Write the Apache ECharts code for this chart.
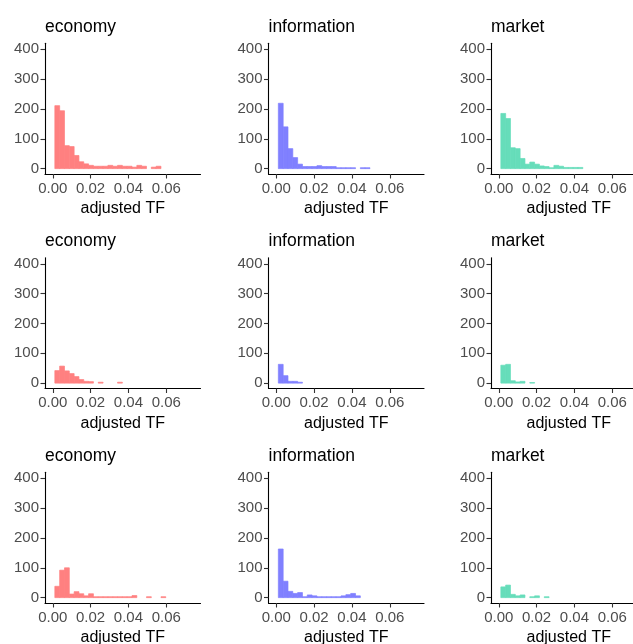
<!DOCTYPE html>
<html>
<head>
<meta charset="utf-8">
<script src="https://cdn.jsdelivr.net/npm/echarts@6/dist/echarts.min.js"></script>
<style>
html,body{margin:0;padding:0;background:#fff;}
#chart{width:633px;height:644px;}
</style>
</head>
<body>
<div id="chart"></div>
<script>
// Histogram bin edges (adjusted TF)
const binEdges = [0.0011, 0.00365, 0.0062, 0.00875, 0.0113, 0.01385, 0.0164, 0.01895,
  0.0215, 0.02405, 0.0266, 0.02915, 0.0317, 0.03425, 0.0368, 0.03935, 0.0419, 0.04445,
  0.047, 0.04955, 0.0521, 0.05465, 0.0572, 0.05975];

// Panel titles (row-major)
const panelTitles = ['economy', 'information', 'market',
                     'economy', 'information', 'market',
                     'economy', 'information', 'market'];

// Counts per bin for each panel
const economy1 = [211, 194, 77, 74, 44, 23, 16, 11, 8, 8, 8, 11, 8, 11, 8, 8, 5, 11, 8, 0, 5, 8];
const information1 = [219, 140, 67, 37, 15, 7, 7, 7, 10, 7, 7, 7, 3, 3, 3, 3, 0, 3, 3];
const market1 = [185, 168, 70, 67, 34, 15, 22, 15, 9, 7, 3, 11, 8, 4, 4, 4, 4];
const economy2 = [42, 57, 41, 32, 22, 12, 6, 5, 0, 3, 0, 0, 0, 3];
const information2 = [63, 25, 6, 6, 3];
const market2 = [60, 63, 8, 4, 6, 0, 2];
const economy3 = [38, 92, 100, 12, 20, 13, 6, 13, 3, 3, 3, 3, 3, 3, 3, 3, 7, 0, 0, 3, 0, 0, 3];
const information3 = [163, 55, 21, 14, 17, 3, 9, 6, 3, 3, 3, 3, 3, 6, 10, 14, 6];
const market3 = [36, 42, 11, 6, 9, 0, 3, 6, 0, 3];

// Axis tick labels
const xTicks = [0, 0.02, 0.04, 0.06];
const yTicks = [0, 100, 200, 300, 400];

const panelCounts = [economy1, information1, market1,
                     economy2, information2, market2,
                     economy3, information3, market3];

const topicColors = {economy: '#FF8080', information: '#8080FF', market: '#66DDBA'};

const FONT = '"Liberation Sans", Arial, sans-serif';
const colLeft = [45, 268.5, 491];
const rowTop = [43.3, 257.8, 472.3];
const gridW = 155.5, gridH = 130.7;

const grids = [], xAxes = [], yAxes = [], series = [], titles = [];

panelCounts.forEach((counts, i) => {
  const r = Math.floor(i / 3), c = i % 3;
  const color = topicColors[panelTitles[i]];
  grids.push({left: colLeft[c], top: rowTop[r], width: gridW, height: gridH,
              containLabel: false, outerBoundsMode: 'none'});
  titles.push({text: panelTitles[i], left: colLeft[c], top: rowTop[r] - 25.5, padding: 0,
               textStyle: {fontFamily: FONT, fontSize: 17.5, fontWeight: 'normal', color: '#000'}});
  xAxes.push({
    gridIndex: i, type: 'value', min: -0.0041, max: 0.0781,
    axisLine: {show: true, onZero: false, lineStyle: {color: '#000', width: 1.1}},
    axisTick: {show: true, customValues: xTicks, length: 4.5, lineStyle: {color: '#333', width: 1.1}},
    axisLabel: {show: true, customValues: xTicks, formatter: v => v.toFixed(2),
                fontFamily: FONT, fontSize: 15, color: '#4D4D4D', margin: 7},
    splitLine: {show: false},
    name: 'adjusted TF', nameLocation: 'middle', nameGap: 27,
    nameTextStyle: {fontFamily: FONT, fontSize: 16, color: '#000'}
  });
  yAxes.push({
    gridIndex: i, type: 'value', min: -18, max: 420,
    axisLine: {show: true, onZero: false, lineStyle: {color: '#000', width: 1.1}},
    axisTick: {show: true, customValues: yTicks, length: 4.5, lineStyle: {color: '#333', width: 1.1}},
    axisLabel: {show: true, customValues: yTicks, fontFamily: FONT, fontSize: 15, color: '#4D4D4D', margin: 6},
    splitLine: {show: false}
  });
  const data = [];
  counts.forEach((n, k) => {
    if (n > 0) data.push([binEdges[k], binEdges[k + 1], n]);
  });
  series.push({
    type: 'custom', xAxisIndex: i, yAxisIndex: i, data: data,
    encode: {x: [0, 1], y: 2},
    renderItem: function (params, api) {
      const p0 = api.coord([api.value(0), api.value(2)]);
      const p1 = api.coord([api.value(1), 0]);
      return {type: 'rect',
              shape: {x: p0[0], y: p0[1], width: p1[0] - p0[0], height: p1[1] - p0[1]},
              style: {fill: color, stroke: color, lineWidth: 0.7}};
    },
    silent: true
  });
});

const chart = echarts.init(document.getElementById('chart'), null, {renderer: 'canvas'});
chart.setOption({
  animation: false,
  backgroundColor: '#fff',
  title: titles,
  grid: grids,
  xAxis: xAxes,
  yAxis: yAxes,
  series: series
});
</script>
</body>
</html>
